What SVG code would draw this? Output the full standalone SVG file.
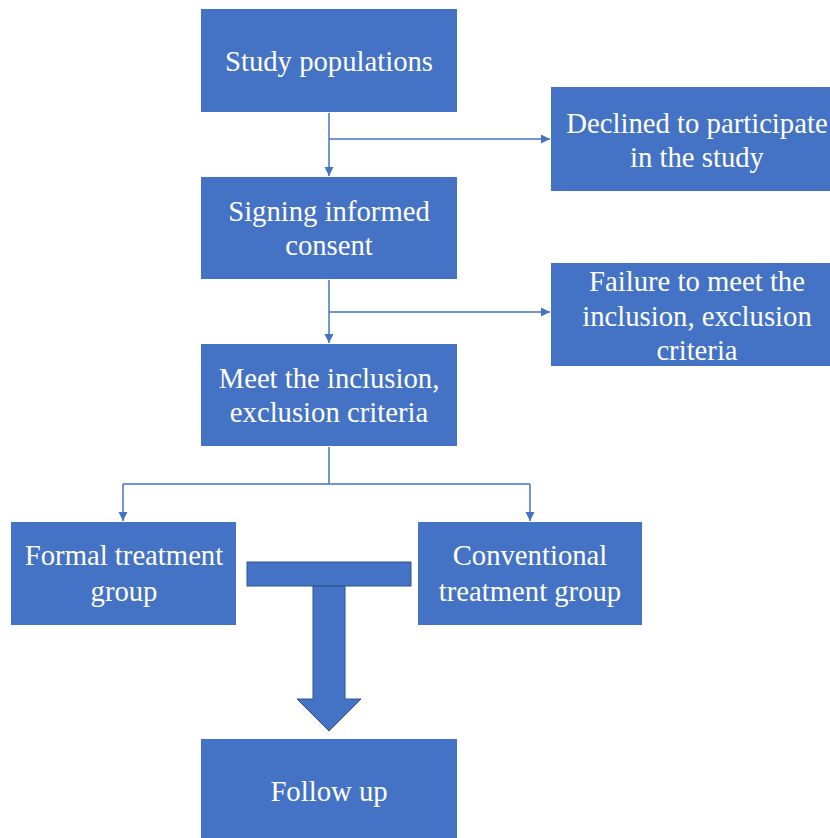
<svg xmlns="http://www.w3.org/2000/svg" width="830" height="838" viewBox="0 0 830 838">
<style>
.box{fill:#4472c4;}
text{font-family:'Liberation Serif',Tinos,'Times New Roman',Times,serif;font-size:28.7px;fill:#ffffff;text-anchor:middle;}
.c{fill:none;stroke:#4472c4;stroke-width:1.5;}
.big{fill:#4472c4;stroke:#2f528f;stroke-width:1;}
</style>
<defs>
<marker id="ah" markerUnits="userSpaceOnUse" markerWidth="10" markerHeight="10" viewBox="0 0 10 10" refX="9" refY="5" orient="auto">
<path d="M0,0.5 L9,5 L0,9.5 Z" fill="#4472c4"/>
</marker>
</defs>
<rect width="830" height="838" fill="#ffffff"/>
<g id="connectors">
<path class="c" d="M329,113 V176" marker-end="url(#ah)"/>
<path class="c" d="M329,139 H550" marker-end="url(#ah)"/>
<path class="c" d="M329,280 V343" marker-end="url(#ah)"/>
<path class="c" d="M329,312 H550" marker-end="url(#ah)"/>
<path class="c" d="M329,447 V484"/>
<path class="c" d="M123,484 H530"/>
<path class="c" d="M123,484 V521" marker-end="url(#ah)"/>
<path class="c" d="M530,484 V521" marker-end="url(#ah)"/>
</g>
<g id="study">
<rect class="box" x="201" y="9" width="256" height="103"/>
<text x="329" y="71">Study populations</text>
</g>
<g id="declined">
<rect class="box" x="551" y="87" width="291" height="104"/>
<text x="697" y="133">Declined to participate</text>
<text x="697" y="167">in the study</text>
</g>
<g id="consent">
<rect class="box" x="201" y="177" width="256" height="102"/>
<text x="329" y="221">Signing informed</text>
<text x="329" y="255">consent</text>
</g>
<g id="failure">
<rect class="box" x="551" y="263" width="291" height="103"/>
<text x="697" y="291">Failure to meet the</text>
<text x="697" y="326">inclusion, exclusion</text>
<text x="697" y="360">criteria</text>
</g>
<g id="meet">
<rect class="box" x="201" y="344" width="256" height="102"/>
<text x="329" y="388">Meet the inclusion,</text>
<text x="329" y="422">exclusion criteria</text>
</g>
<g id="formal">
<rect class="box" x="11" y="522" width="225" height="103"/>
<text x="124" y="565">Formal treatment</text>
<text x="124" y="601">group</text>
</g>
<g id="conventional">
<rect class="box" x="418" y="522" width="224" height="103"/>
<text x="530" y="565">Conventional</text>
<text x="530" y="601">treatment group</text>
</g>
<g id="merge">
<rect class="big" x="247" y="562" width="164" height="24"/>
<polygon class="big" points="313,586 345,586 345,699 361,699 329,731 297,699 313,699"/>
</g>
<g id="followup">
<rect class="box" x="201" y="739" width="256" height="106"/>
<text x="329" y="801">Follow up</text>
</g>
</svg>
